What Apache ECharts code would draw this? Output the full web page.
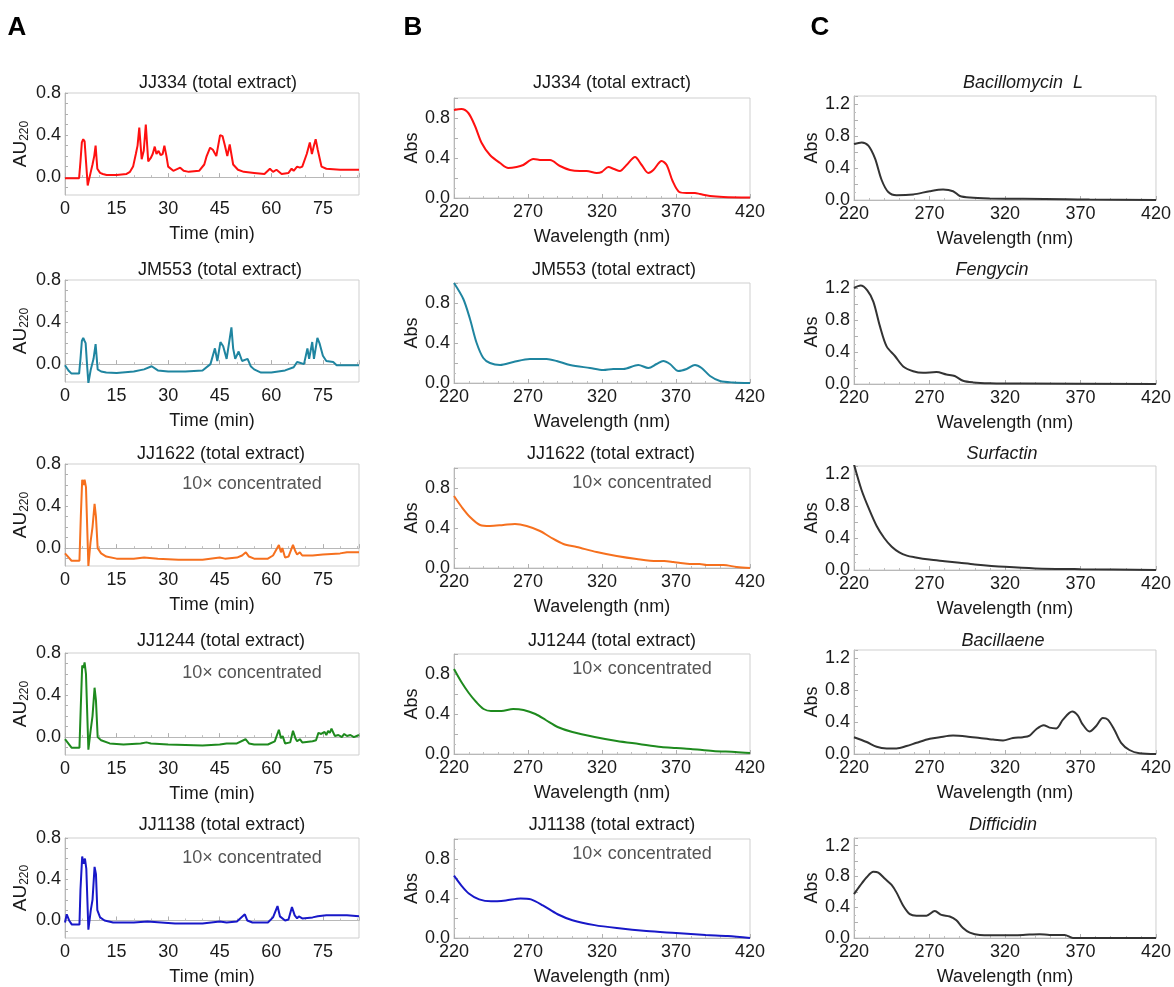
<!DOCTYPE html>
<html>
<head>
<meta charset="utf-8">
<script src="https://cdn.jsdelivr.net/npm/echarts@6/dist/echarts.min.js"></script>
<style>
  html, body { margin: 0; background: #fff; }
  #chart { width: 1174px; height: 987px; }
</style>
</head>
<body>
<div id="chart"></div>
<script>
// ---- data: column A, HPLC chromatograms [time (min), AU220] ----
const jj334Chrom = [[0,-0.01],[4.1,-0.01],[4.5,0.15],[4.9,0.33],[5.3,0.36],[5.7,0.34],[6.1,0.33],[6.6,-0.08],[7.0,-0.02],[7.5,0.05],[8.0,0.12],[8.5,0.2],[8.9,0.3],[9.4,0.08],[10.2,0.04],[11,0.03],[12.1,0.02],[15,0.02],[17.9,0.03],[18.9,0.05],[19.8,0.10],[20.6,0.22],[21.1,0.3],[21.6,0.47],[22.3,0.17],[22.9,0.25],[23.5,0.5],[24.2,0.15],[24.9,0.18],[25.5,0.22],[26.1,0.29],[26.6,0.22],[27.2,0.25],[27.8,0.21],[28.4,0.22],[28.9,0.30],[29.5,0.2],[30.0,0.10],[31.5,0.06],[33.5,0.09],[34.5,0.06],[36,0.05],[39,0.06],[40.5,0.12],[41.2,0.2],[42.2,0.28],[43.0,0.26],[44.0,0.2],[45.1,0.40],[45.8,0.39],[46.5,0.3],[47.2,0.2],[47.9,0.31],[48.9,0.12],[50.3,0.07],[52,0.05],[55,0.04],[58,0.03],[59.6,0.08],[60.5,0.05],[61.5,0.07],[63,0.03],[65,0.04],[65.9,0.08],[66.5,0.06],[67.5,0.1],[68.3,0.09],[69,0.1],[70.3,0.22],[71.2,0.33],[71.8,0.22],[72.4,0.3],[72.9,0.36],[73.5,0.26],[74.6,0.1],[76,0.08],[80,0.07],[85.5,0.07]];
const jm553Chrom = [[0,-0.01],[1,-0.06],[1.9,-0.09],[4.1,-0.09],[4.5,0.05],[4.9,0.22],[5.3,0.25],[5.7,0.22],[6.0,0.2],[6.4,0.0],[6.8,-0.18],[7.5,-0.05],[8.3,0.05],[8.9,0.19],[9.5,-0.05],[10.5,-0.07],[12,-0.08],[15,-0.085],[20,-0.07],[23,-0.05],[25.2,-0.02],[27,-0.06],[30,-0.07],[35,-0.07],[40,-0.06],[42.3,0.0],[43.6,0.15],[44.3,0.03],[45.2,0.21],[46,0.17],[47,0.05],[48.4,0.35],[48.9,0.15],[49.5,0.05],[50.5,0.12],[51.5,0.03],[53.1,0.05],[54,-0.02],[55,-0.05],[57,-0.08],[60,-0.08],[62,-0.07],[64,-0.06],[66.5,-0.03],[67.5,0.02],[68.5,0.01],[69.5,0.0],[70.5,0.15],[71,0.05],[71.9,0.21],[72.4,0.05],[73.4,0.25],[74,0.2],[75,0.08],[76,0.03],[78,0.02],[79,-0.01],[85.5,-0.01]];
const jj1622Chrom = [[0,-0.05],[1.9,-0.12],[4.2,-0.12],[4.6,0.3],[5.0,0.65],[5.4,0.6],[5.7,0.65],[6.1,0.58],[6.8,-0.17],[7.4,0.05],[8.0,0.2],[8.6,0.42],[9.0,0.3],[9.5,0.0],[10.5,-0.05],[12,-0.08],[15,-0.1],[20,-0.1],[23,-0.09],[27,-0.1],[33,-0.11],[40,-0.11],[45,-0.09],[46.5,-0.1],[50,-0.09],[51.5,-0.07],[52.6,-0.04],[53.5,-0.08],[55,-0.1],[59,-0.1],[60.5,-0.07],[62.2,0.03],[62.8,-0.04],[63.2,0.0],[64,-0.09],[65,-0.08],[66.3,0.03],[67,-0.03],[67.5,-0.06],[68.3,-0.04],[69,-0.07],[72,-0.07],[75,-0.06],[80,-0.05],[82,-0.04],[85.5,-0.04]];
const jj1244Chrom = [[0,-0.02],[1.9,-0.1],[4.2,-0.1],[4.6,0.3],[5.0,0.68],[5.4,0.66],[5.7,0.71],[6.1,0.6],[6.8,-0.12],[7.4,0.05],[8.0,0.2],[8.6,0.47],[9.0,0.35],[9.5,0.0],[10.5,-0.03],[13,-0.06],[17,-0.07],[22,-0.06],[23.7,-0.05],[25,-0.06],[30,-0.07],[40,-0.08],[45,-0.07],[47,-0.06],[50,-0.06],[52.5,-0.02],[53.5,-0.06],[55,-0.07],[59,-0.07],[61,-0.04],[62.2,0.07],[62.8,-0.01],[63.3,0.01],[64,-0.06],[65.5,-0.05],[66.3,0.06],[67,-0.01],[67.5,-0.04],[68.3,-0.02],[69,-0.05],[72,-0.04],[73,-0.03],[73.7,0.04],[74.5,0.03],[75.5,0.05],[76,0.02],[76.5,0.06],[77,0.04],[77.5,0.08],[78.5,0.01],[79.5,0.02],[80.5,0.0],[81.2,0.03],[82,0.01],[83,0.02],[84,0.0],[85.5,0.02]];
const jj1138Chrom = [[0,-0.02],[0.5,0.06],[1.2,0.0],[2,-0.04],[4.2,-0.04],[4.5,0.3],[5.0,0.62],[5.4,0.55],[5.8,0.6],[6.2,0.5],[6.8,-0.09],[7.5,0.1],[8.0,0.2],[8.6,0.52],[9.0,0.45],[9.4,0.1],[10.2,0.03],[11.5,0.0],[14,-0.02],[20,-0.02],[24,-0.01],[28,-0.02],[32,-0.03],[40,-0.03],[45,-0.01],[47,-0.02],[50,-0.01],[52.3,0.06],[53,0.0],[53.5,0.01],[54.5,-0.02],[59,-0.02],[60.5,0.03],[61.8,0.14],[62.5,0.04],[63,0.05],[64,0.0],[65,0.01],[66,0.13],[66.8,0.05],[67.5,0.02],[68,0.04],[69,0.02],[72,0.03],[73.5,0.04],[76,0.05],[80,0.05],[82,0.05],[85.5,0.04]];

// ---- data: column B, UV spectra of total extracts [nm, Abs] ----
const jj334Uv = [[220,0.88],[225,0.89],[229.7,0.85],[234.2,0.72],[238.7,0.55],[244.3,0.43],[251.1,0.35],[256.7,0.30],[262.3,0.31],[266.8,0.33],[273.6,0.39],[279.2,0.38],[284.9,0.38],[291.6,0.32],[298.4,0.28],[305.1,0.27],[309.6,0.27],[316.4,0.25],[319.8,0.26],[324.3,0.31],[328.1,0.29],[332.1,0.27],[336.6,0.33],[342.3,0.41],[346.8,0.33],[351.3,0.25],[354.7,0.28],[360.3,0.37],[363.7,0.33],[367.7,0.17],[372.2,0.06],[377.2,0.05],[382.8,0.05],[386.2,0.04],[393,0.02],[402,0.01],[420,0.005]];
const jm553Uv = [[220,1.0],[226.3,0.84],[230.8,0.64],[235.3,0.40],[239.8,0.25],[244.3,0.20],[251.1,0.18],[260.1,0.21],[271.3,0.24],[282.6,0.24],[289.4,0.22],[298.4,0.18],[311.9,0.15],[320.9,0.13],[327.6,0.14],[334.4,0.14],[344.5,0.18],[351.3,0.15],[356.9,0.19],[361.4,0.22],[365.9,0.19],[371.6,0.12],[377.2,0.14],[382.8,0.18],[387.3,0.15],[393,0.07],[399.7,0.02],[408.7,0.005],[420,0.0]];
const jj1622Uv = [[220,0.72],[225.2,0.61],[230.8,0.51],[237.6,0.43],[244.3,0.42],[253.3,0.43],[261.2,0.44],[269.1,0.42],[278.1,0.37],[284.9,0.31],[293.9,0.24],[302.9,0.21],[316.4,0.16],[329.9,0.12],[343.4,0.09],[356.9,0.07],[362,0.07],[368.2,0.06],[373,0.05],[379.4,0.04],[386,0.04],[390.7,0.03],[402,0.03],[411,0.01],[420,0.0]];
const jj1244Uv = [[220,0.85],[225,0.72],[230,0.61],[235,0.52],[240,0.45],[245,0.43],[252,0.43],[260,0.45],[267,0.44],[275,0.40],[282,0.34],[290,0.27],[300,0.22],[315,0.17],[330,0.13],[345,0.10],[360,0.07],[370,0.06],[380,0.05],[395,0.03],[410,0.02],[420,0.01]];
const jj1138Uv = [[220,0.63],[225,0.53],[230,0.45],[237,0.39],[245,0.37],[255,0.38],[265,0.40],[272,0.39],[280,0.33],[290,0.24],[300,0.18],[315,0.13],[330,0.10],[350,0.07],[370,0.05],[390,0.03],[405,0.02],[420,0.0]];

// ---- data: column C, UV spectra of standards [nm, Abs] ----
const bacillomycinUv = [[220,0.70],[225.1,0.72],[229.5,0.68],[233.9,0.52],[238.3,0.25],[242.7,0.10],[248.2,0.06],[259.2,0.07],[270.2,0.11],[279,0.13],[285.6,0.11],[290.1,0.05],[296.7,0.03],[309.9,0.02],[331.9,0.015],[360.5,0.01],[376,0.005],[420,0.0]];
const fengycinUv = [[220,1.20],[224.4,1.23],[228.8,1.17],[232.8,1.03],[237.2,0.72],[241.6,0.47],[247.1,0.35],[252.6,0.22],[259.2,0.16],[265.8,0.14],[274.6,0.15],[281.2,0.12],[286.7,0.10],[292.2,0.04],[298.9,0.02],[309.9,0.01],[331.9,0.005],[420,0.0]];
const surfactinUv = [[220,1.32],[225,1.0],[230,0.76],[235,0.55],[240,0.40],[245,0.29],[250,0.22],[255,0.18],[260,0.16],[270,0.13],[280,0.11],[290,0.09],[300,0.07],[320,0.04],[340,0.02],[370,0.01],[420,0.0]];
const bacillaeneUv = [[220,0.21],[228.4,0.15],[235,0.09],[241.6,0.07],[248.2,0.07],[254.8,0.10],[261.4,0.14],[270.2,0.19],[276.8,0.21],[285.6,0.23],[294.5,0.22],[303.3,0.20],[312.1,0.18],[318.7,0.17],[325.3,0.20],[331.9,0.21],[336.3,0.23],[340.7,0.31],[345.6,0.36],[349.5,0.33],[354,0.32],[358.4,0.43],[364.5,0.53],[368.3,0.48],[371.1,0.38],[376,0.28],[380.4,0.35],[384.8,0.45],[388.1,0.43],[392.5,0.30],[396.9,0.14],[402.4,0.05],[409,0.01],[420,0.0]];
const difficidinUv = [[220,0.57],[224,0.68],[228.4,0.79],[232.8,0.86],[236.1,0.85],[240.5,0.77],[244.9,0.69],[248.2,0.59],[252.6,0.42],[257,0.31],[261.4,0.29],[268,0.29],[273.5,0.35],[277.9,0.30],[283.4,0.28],[287.8,0.23],[292.2,0.13],[296.7,0.07],[303.3,0.04],[320.9,0.035],[331.9,0.04],[342.9,0.05],[349.5,0.04],[359.5,0.04],[365,0.0],[420,0.0]];

const strainTitles = ['JJ334 (total extract)', 'JM553 (total extract)', 'JJ1622 (total extract)', 'JJ1244 (total extract)', 'JJ1138 (total extract)'];
const compoundTitles = ['Bacillomycin  L', 'Fengycin', 'Surfactin', 'Bacillaene', 'Difficidin'];
const concentratedRows = [2, 3, 4];
const auLabels = [0, 0.4, 0.8];
const auTicks = [-0.1, 0, 0.1, 0.2, 0.3, 0.4, 0.5, 0.6, 0.7, 0.8];

// ---- layout ----
const FONT = '"Liberation Sans", Arial, sans-serif';
const strainColors = ['#ff1010', '#1f85a0', '#f6701e', '#1e8a1e', '#1818c8'];
const colLeft = [65, 454, 854];
const colWidth = [294, 296, 303];
const colHeight = [102, 100, 104];
const rowTops = [[93, 280, 464, 653, 838], [98, 283, 468, 654, 839], [96, 280, 466, 650, 838]];
const titleY = [83, 270, 454, 641, 825];
const titleX = [[218, 220, 221, 221, 222], [612, 614, 611, 612, 612], [1023, 992, 1002, 1003, 1003]];

// show a label only where the value sits on a multiple of step
function every(step, digits) {
    return function (v) {
        const k = v / step;
        if (Math.abs(k - Math.round(k)) > 1e-6) return '';
        return (Math.abs(v) < 1e-9 ? 0 : v).toFixed(digits);
    };
}

const chromData = [jj334Chrom, jm553Chrom, jj1622Chrom, jj1244Chrom, jj1138Chrom];
const extractUv = [jj334Uv, jm553Uv, jj1622Uv, jj1244Uv, jj1138Uv];
const standardUv = [bacillomycinUv, fengycinUv, surfactinUv, bacillaeneUv, difficidinUv];

const grids = [], xAxes = [], yAxes = [], series = [], graphics = [];

const axisLineStyle = { lineStyle: { color: '#b8b8b8', width: 1 } };
const labelStyle = { fontSize: 18, color: '#1a1a1a', fontFamily: FONT };

function addPanel(col, row, data, color) {
    const i = grids.length;
    grids.push({
        left: colLeft[col], top: rowTops[col][row],
        width: colWidth[col], height: colHeight[col],
        show: true, borderColor: '#cfcfcf', borderWidth: 1
    });
    const xa = {
        gridIndex: i, type: 'value',
        axisLine: axisLineStyle,
        axisTick: { inside: true, length: 4, lineStyle: { color: '#b0b0b0' } },
        minorTick: { show: true, length: 2, lineStyle: { color: '#c0c0c0' } },
        splitLine: { show: false },
        axisLabel: Object.assign({ margin: 5 }, labelStyle),
        nameLocation: 'middle', nameGap: 30,
        nameTextStyle: labelStyle
    };
    const ya = {
        gridIndex: i, type: 'value',
        axisLine: axisLineStyle,
        axisTick: { inside: true, length: 4, lineStyle: { color: '#b0b0b0' } },
        minorTick: { show: true, splitNumber: 2, length: 2, lineStyle: { color: '#c0c0c0' } },
        splitLine: { show: false },
        axisLabel: Object.assign({ margin: 4, formatter: every(0.4, 1) }, labelStyle),
        nameLocation: 'middle', nameRotate: 90
    };
    if (col === 0) {
        Object.assign(xa, { min: 0, max: 85.5, interval: 15, name: 'Time (min)' });
        xa.axisLabel.formatter = every(15, 0);
        xa.minorTick.splitNumber = 3;
        // y range runs a little below zero, so ticks are placed by hand
        Object.assign(ya, {
            min: -0.17, max: 0.8, nameGap: 34,
            name: '{a|AU}{b|220}',
            nameTextStyle: {
                rich: {
                    a: { fontSize: 19, color: '#1a1a1a', fontFamily: FONT },
                    b: { fontSize: 12, color: '#1a1a1a', fontFamily: FONT, padding: [9, 0, 0, 0] }
                }
            }
        });
        ya.axisLabel.customValues = auLabels;
        ya.axisTick.customValues = auTicks;
        ya.axisTick.length = 3;
        ya.minorTick.show = false;
    } else {
        Object.assign(xa, { min: 220, max: 420, interval: 50, name: 'Wavelength (nm)' });
        xa.minorTick.splitNumber = 5;
        Object.assign(ya, {
            min: 0, max: col === 1 ? 1.0 : 1.3, interval: 0.2, nameGap: 33,
            name: 'Abs', nameTextStyle: labelStyle
        });
    }
    xAxes.push(xa);
    yAxes.push(ya);
    series.push({
        type: 'line', xAxisIndex: i, yAxisIndex: i,
        data: data, showSymbol: false, smooth: col === 0 ? false : 0.3,
        lineStyle: { color: color, width: 2 }, itemStyle: { color: color },
        silent: true, animation: false
    });
    // panel title
    const title = col === 2 ? compoundTitles[row] : strainTitles[row];
    graphics.push({
        type: 'text', x: titleX[col][row], y: titleY[row],
        style: {
            text: title, fill: '#1a1a1a', align: 'center', verticalAlign: 'middle',
            font: (col === 2 ? 'italic ' : '') + '18px ' + FONT
        }
    });
    if (col < 2 && concentratedRows.indexOf(row) >= 0) {
        graphics.push({
            type: 'text', x: col === 0 ? 252 : 642, y: rowTops[col][row] + 20 - (col === 1 ? 5 : 0),
            style: {
                text: '10\u00d7 concentrated', fill: '#555', align: 'center', verticalAlign: 'middle',
                font: '18px ' + FONT
            }
        });
    }
}

for (let r = 0; r < 5; r++) {
    addPanel(0, r, chromData[r], strainColors[r]);
    addPanel(1, r, extractUv[r], strainColors[r]);
    addPanel(2, r, standardUv[r], '#333333');
}

// panel letters
[['A', 17], ['B', 413], ['C', 820]].forEach(function (p) {
    graphics.push({
        type: 'text', x: p[1], y: 28,
        style: { text: p[0], fill: '#000', align: 'center', verticalAlign: 'middle', font: 'bold 26px ' + FONT }
    });
});

const chart = echarts.init(document.getElementById('chart'), null, { renderer: 'canvas' });
chart.setOption({
    backgroundColor: '#fff',
    animation: false,
    grid: grids,
    xAxis: xAxes,
    yAxis: yAxes,
    series: series,
    graphic: graphics
});
</script>
</body>
</html>
